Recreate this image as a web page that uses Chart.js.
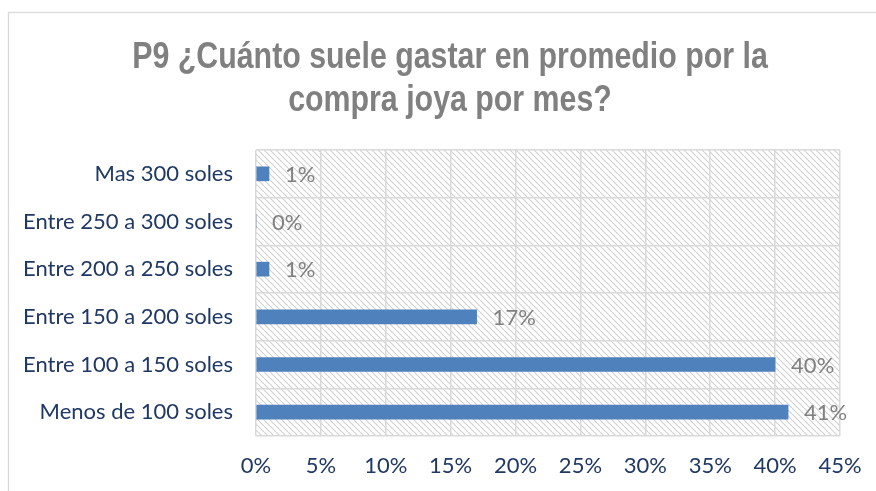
<!DOCTYPE html>
<html>
<head>
<meta charset="utf-8">
<script src="https://cdn.jsdelivr.net/npm/chart.js@4/dist/chart.umd.min.js"></script>
<style>
html,body{margin:0;padding:0;background:#fff;}
#wrap{width:876px;height:491px;position:relative;}
</style>
</head>
<body>
<div id="wrap"><canvas id="c" width="876" height="491"></canvas></div>
<script>
const titleLines = ['P9 ¿Cuánto suele gastar en promedio por la', 'compra joya por mes?'];
const categories = ['Mas 300 soles', 'Entre 250 a 300 soles', 'Entre 200 a 250 soles', 'Entre 150 a 200 soles', 'Entre 100 a 150 soles', 'Menos de 100 soles'];
const values = [1, 0, 1, 17, 40, 41];
const xTicks = [0, 5, 10, 15, 20, 25, 30, 35, 40, 45];

const labelFont = 'Lato, "Noto Sans", sans-serif';

function narrowAvailable() {
  const c = document.createElement('canvas').getContext('2d');
  c.font = 'bold 34px "Liberation Sans Narrow", monospace';
  const a = c.measureText('abcdefghijklm').width;
  c.font = 'bold 34px monospace';
  const b = c.measureText('abcdefghijklm').width;
  return a !== b;
}
const hasNarrow = narrowAvailable();

function makePattern(ctx) {
  const s = 6;
  const p = document.createElement('canvas');
  p.width = s; p.height = s;
  const g = p.getContext('2d');
  g.fillStyle = '#ffffff';
  g.fillRect(0, 0, s, s);
  g.strokeStyle = '#d2d2d2';
  g.lineWidth = 1.2;
  g.beginPath();
  for (const k of [-s, 0, s]) { g.moveTo(k, 0); g.lineTo(k + s, s); }
  g.stroke();
  return ctx.createPattern(p, 'repeat');
}

const bgPlugin = {
  id: 'bg',
  beforeDraw(chart) {
    const {ctx, chartArea: a} = chart;
    ctx.save();
    ctx.fillStyle = '#fff';
    ctx.fillRect(0, 0, chart.width, chart.height);
    ctx.strokeStyle = '#d9d9d9';
    ctx.lineWidth = 1.3;
    ctx.strokeRect(8.5, 12.5, chart.width + 20, chart.height + 20);
    ctx.fillStyle = makePattern(ctx);
    ctx.fillRect(a.left, a.top, a.right - a.left, a.bottom - a.top);
    // title
    ctx.fillStyle = '#808080';
    ctx.textAlign = 'center';
    ctx.textBaseline = 'alphabetic';
    const cx = (chart.width + 24) / 2;
    const baselines = [68, 111];
    titleLines.forEach((t, i) => {
      ctx.save();
      if (hasNarrow) {
        ctx.font = 'bold 37px "Liberation Sans Narrow", sans-serif';
        ctx.fillText(t, cx, baselines[i]);
      } else {
        ctx.font = 'bold 37px "Liberation Sans", Arial, sans-serif';
        ctx.translate(cx, baselines[i]);
        ctx.scale(0.82, 1);
        ctx.fillText(t, 0, 0);
      }
      ctx.restore();
    });
    ctx.restore();
  }
};

const valueLabels = {
  id: 'valueLabels',
  afterDatasetsDraw(chart) {
    const {ctx} = chart;
    const meta = chart.getDatasetMeta(0);
    ctx.save();
    ctx.font = '22px ' + labelFont;
    ctx.fillStyle = '#808080';
    ctx.textAlign = 'left';
    ctx.textBaseline = 'middle';
    meta.data.forEach((bar, i) => {
      ctx.fillText(values[i] + '%', bar.x + 16, bar.y + 1);
    });
    ctx.restore();
  }
};

new Chart(document.getElementById('c'), {
  type: 'bar',
  data: {
    labels: categories,
    datasets: [{
      data: values,
      backgroundColor: '#4f81bd',
      borderWidth: 0,
      barThickness: 14
    }]
  },
  options: {
    indexAxis: 'y',
    responsive: false,
    animation: false,
    devicePixelRatio: 1,
    layout: {padding: {left: 20, right: 36, top: 150, bottom: 0}},
    plugins: {legend: {display: false}, tooltip: {enabled: false}, title: {display: false}},
    scales: {
      x: {
        min: 0, max: 45,
        afterBuildTicks(scale) { scale.ticks = xTicks.map(v => ({value: v})); },
        afterFit(scale) { scale.height = 55; scale.paddingLeft = 0; scale.paddingRight = 0; },
        border: {display: false},
        grid: {color: '#d9d9d9', lineWidth: 1.5, drawTicks: false},
        ticks: {
          padding: 17,
          color: '#1f3864',
          font: {family: labelFont, size: 22},
          callback: v => v + '%'
        }
      },
      y: {
        afterFit(scale) { scale.width = 236; scale.paddingTop = 0; scale.paddingBottom = 0; },
        border: {display: false},
        grid: {color: '#d9d9d9', lineWidth: 1.5, drawTicks: false, offset: true},
        ticks: {
          padding: 23,
          color: '#1f3864',
          font: {family: labelFont, size: 22}
        }
      }
    }
  },
  plugins: [bgPlugin, valueLabels]
});
</script>
</body>
</html>
